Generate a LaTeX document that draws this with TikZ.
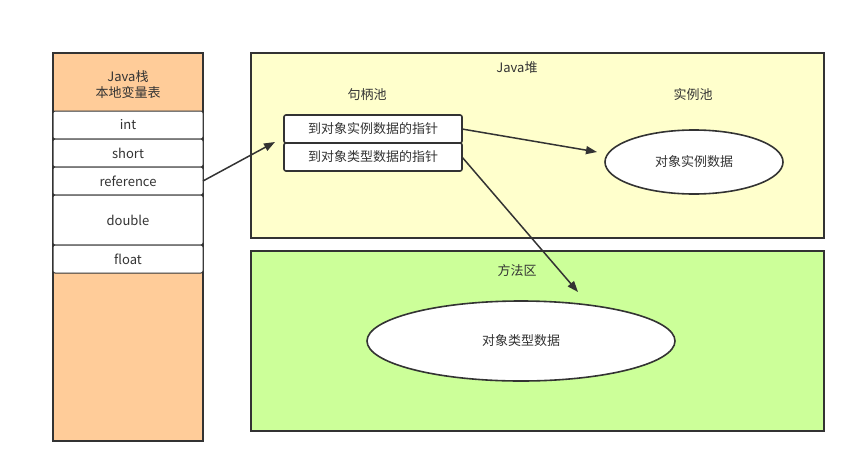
\documentclass[tikz,border=0pt]{standalone}
\usepackage{fontspec}
\setmainfont{Noto Sans CJK SC}
\usetikzlibrary{arrows.meta,shapes.geometric}
\definecolor{stk}{RGB}{255,204,153}
\definecolor{heap}{RGB}{255,255,204}
\definecolor{meth}{RGB}{204,255,153}
\definecolor{ink}{RGB}{51,51,51}
\begin{document}
\begin{tikzpicture}[x=1pt,y=-1pt,
  every node/.style={font=\fontsize{13}{16}\selectfont, text=ink},
  area/.style={draw=ink, line width=1.6pt},
  cell/.style={draw=ink, line width=1pt, fill=white, rounded corners=2pt},
  oval/.style={draw=ink, line width=1.6pt, fill=white, ellipse},
  conn/.style={draw=ink, line width=1.5pt, -{Triangle[length=11pt,width=8pt]}}]
\useasboundingbox (0,0) rectangle (856,474);
% stack
\draw[area, fill=stk] (53,53) rectangle (203,441);
\node[align=center] (stitle) at (128,85) {Java栈\\本地变量表};
\draw[cell] (53,111) rectangle (203,139); \node (int) at (128,125) {int};
\draw[cell] (53,139) rectangle (203,167); \node (short) at (128,153) {short};
\draw[cell] (53,167) rectangle (203,195); \node (ref) at (128,181) {reference};
\coordinate (refR) at (203,181);
\draw[cell] (53,195) rectangle (203,245); \node (dbl) at (128,220) {double};
\draw[cell] (53,245) rectangle (203,273); \node (flt) at (128,259) {float};
% heap
\draw[area, fill=heap] (251,53) rectangle (824,238);
\node (heapt) at (517,68) {Java堆};
\node (pool) at (367,95) {句柄池};
\node (ipool) at (693,95) {实例池};
\draw[cell, line width=1.6pt] (284,115) rectangle (462,143);
\node (h1) at (373,129) {到对象实例数据的指针};
\draw[cell, line width=1.6pt] (284,143) rectangle (462,171);
\node (h2) at (373,157) {到对象类型数据的指针};
\coordinate (h1R) at (462,129);
\coordinate (h2R) at (462,157);
\coordinate (hIn) at (275,142);
\node[oval, minimum width=178pt, minimum height=64pt] (inst) at (694,162) {对象实例数据};
% method area
\draw[area, fill=meth] (251,251) rectangle (824,431);
\node (mt) at (517,271) {方法区};
\node[oval, minimum width=308pt, minimum height=80pt] (type) at (521,341) {对象类型数据};
\coordinate (tIn) at (578,292);
\coordinate (iIn) at (597,152);
% connectors
\draw[conn] (refR) -- (hIn);
\draw[conn] (h1R) -- (iIn);
\draw[conn] (h2R) -- (tIn);
\end{tikzpicture}
\end{document}
